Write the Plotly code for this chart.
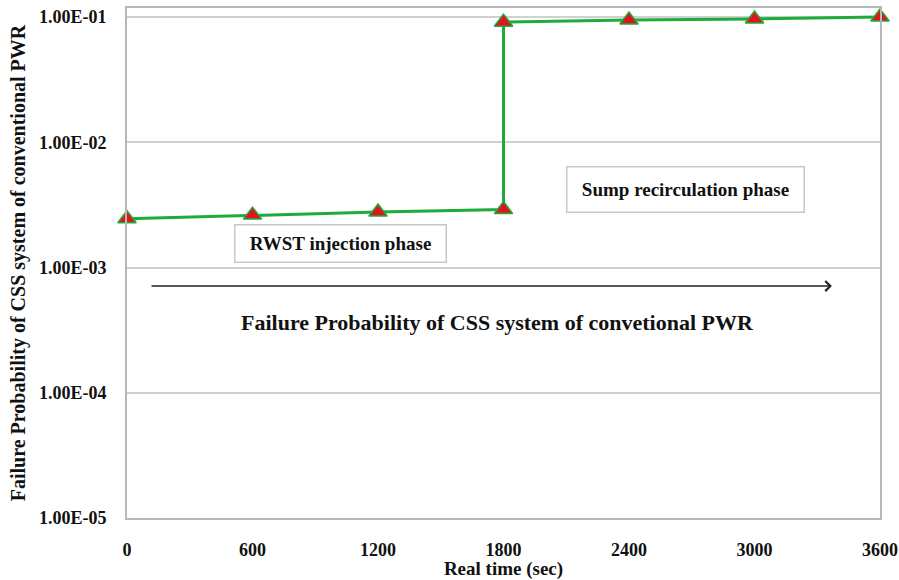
import plotly.graph_objects as go

time_s = [0, 600, 1200, 1800, 1800, 2400, 3000, 3600]
fail_prob = [2.45e-3, 2.62e-3, 2.77e-3, 2.90e-3, 9.1e-2, 9.45e-2, 9.65e-2, 1.0e-1]
x_ticks = [0, 600, 1200, 1800, 2400, 3000, 3600]
y_ticks = [1e-5, 1e-4, 1e-3, 1e-2, 1e-1]
y_tick_labels = ["1.00E-05", "1.00E-04", "1.00E-03", "1.00E-02", "1.00E-01"]

FONT = "Liberation Serif"

fig = go.Figure()
fig.add_trace(go.Scatter(
    x=time_s, y=fail_prob, mode="lines+markers",
    line=dict(color="#1faa3c", width=3),
    marker=dict(symbol="triangle-up", size=16, color="#e0141e",
                line=dict(color="#1faa3c", width=1.5)),
    cliponaxis=False, showlegend=False,
))

fig.update_layout(
    width=899, height=580,
    margin=dict(l=127, r=19, t=8, b=62),
    paper_bgcolor="white", plot_bgcolor="white",
    font=dict(family=FONT, size=18, color="#111111"),
    xaxis=dict(range=[0, 3600], tickvals=x_ticks, showgrid=False,
               showline=True, linecolor="#b8b8b8", linewidth=2, mirror=True,
               zeroline=False, ticks="", ticklabelstandoff=14,
               automargin=False,
               tickfont=dict(family=FONT, size=18, weight="bold"),
               title=dict(text="<b>Real time (sec)</b>", standoff=4,
                          font=dict(family=FONT, size=19))),
    yaxis=dict(type="log", range=[-5, -0.928], tickvals=y_ticks,
               ticktext=y_tick_labels, showgrid=True, gridcolor="#d0d0d0",
               gridwidth=1.5, showline=True, linecolor="#b8b8b8",
               linewidth=2, mirror=True, zeroline=False, ticks="",
               ticklabelstandoff=15, automargin=False,
               tickfont=dict(family=FONT, size=18, weight="bold"),
               title=dict(text="<b>Failure Probability of CSS system of conventional PWR</b>",
                          standoff=8, font=dict(family=FONT, size=20))),
)

box = dict(showarrow=False, bordercolor="#c8c8c8", borderwidth=1.5,
           bgcolor="white", xref="x", yref="y")
fig.add_annotation(x=1023, y=-2.812, text="<b>RWST injection phase</b>",
                   font=dict(family=FONT, size=19), width=202, height=28,
                   borderpad=4, **box)
fig.add_annotation(x=2672, y=-2.377, text="<b>Sump recirculation phase</b>",
                   font=dict(family=FONT, size=19), width=228, height=36,
                   borderpad=4, **box)
fig.add_annotation(x=1769, y=-3.443, xref="x", yref="y", showarrow=False,
                   text="<b>Failure Probability of CSS system of convetional PWR</b>",
                   font=dict(family=FONT, size=22))
fig.add_annotation(x=3370, y=-3.148, ax=110, ay=-3.148, xref="x", yref="y",
                   axref="x", ayref="y", text="", showarrow=True,
                   arrowhead=4, arrowsize=1.3, arrowwidth=1.5, arrowcolor="#222")

fig.write_html("out.html")
